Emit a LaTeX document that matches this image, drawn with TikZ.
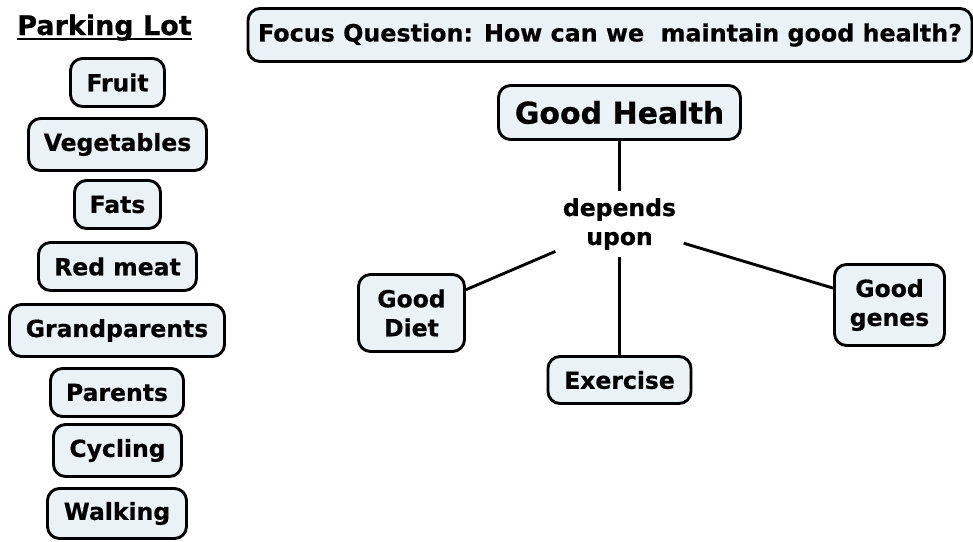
\documentclass[tikz,border=0pt]{standalone}
\usepackage{fontspec}
\setmainfont{DejaVu Sans}[BoldFeatures={FakeBold=0.6}]
\definecolor{boxfill}{RGB}{235,242,245}
\begin{document}
\begin{tikzpicture}[x=1pt,y=-1pt,
  concept/.style={draw=black, line width=2.9pt, rounded corners=12pt,
    fill=boxfill, align=center, inner sep=0pt,
    font=\bfseries\fontsize{23.5}{29}\selectfont},
  sz/.style 2 args={minimum width=#1pt, minimum height=#2pt},
  linkword/.style={align=center, inner sep=0pt,
    font=\bfseries\fontsize{23.5}{29}\selectfont},
  link/.style={line width=2.9pt}]
\useasboundingbox (0,0) rectangle (973,541);

% parking lot heading
\node[anchor=base, inner sep=0pt, font=\bfseries\fontsize{27}{32}\selectfont]
  (plot) at (104.5,35) {Parking Lot};
\draw[line width=2pt] ([yshift=-4pt]plot.base west) -- ([yshift=-4pt]plot.base east);

% parked concepts
\node[concept, sz={94}{48}]  (fruit)    at (117.5,82.5)  {Fruit};
\node[concept, sz={178}{52}] (veg)      at (117.5,144.5) {Vegetables};
\node[concept, sz={86}{48}]  (fats)     at (117.5,204.5) {Fats};
\node[concept, sz={158}{48}] (redmeat)  at (117.5,266.5) {Red meat};
\node[concept, sz={215}{52}] (grand)    at (117,330.5)   {Grandparents};
\node[concept, sz={133}{48}] (parents)  at (117,392.5)   {Parents};
\node[concept, sz={128}{52}] (cycling)  at (117.5,450.5) {Cycling};
\node[concept, sz={139}{50}] (walking)  at (117,513.5)   {Walking};

% focus question
\node[concept, sz={724}{53}, font=\bfseries\fontsize{23.8}{29}\selectfont]
  (focus) at (610,35) {Focus Question: How can we\ \ maintain good health?};

% concept map
\node[concept, sz={242}{54}, font=\bfseries\fontsize{30}{36}\selectfont]
  (health) at (619.5,112.5) {Good Health};
\node[linkword, minimum width=128pt, minimum height=66pt]
  (dep) at (619.5,224) {depends\\upon};
\node[concept, sz={106}{77}] (diet)     at (411.5,313)   {Good\\Diet};
\node[concept, sz={143}{47}] (exercise) at (619.5,380)   {Exercise};
\node[concept, sz={110}{81}] (genes)    at (889.5,305)   {Good\\genes};

\draw[link] (health) -- (dep);
\draw[link] (dep) -- (diet);
\draw[link] (dep) -- (exercise);
\draw[link] (dep) -- (genes);
\end{tikzpicture}
\end{document}
